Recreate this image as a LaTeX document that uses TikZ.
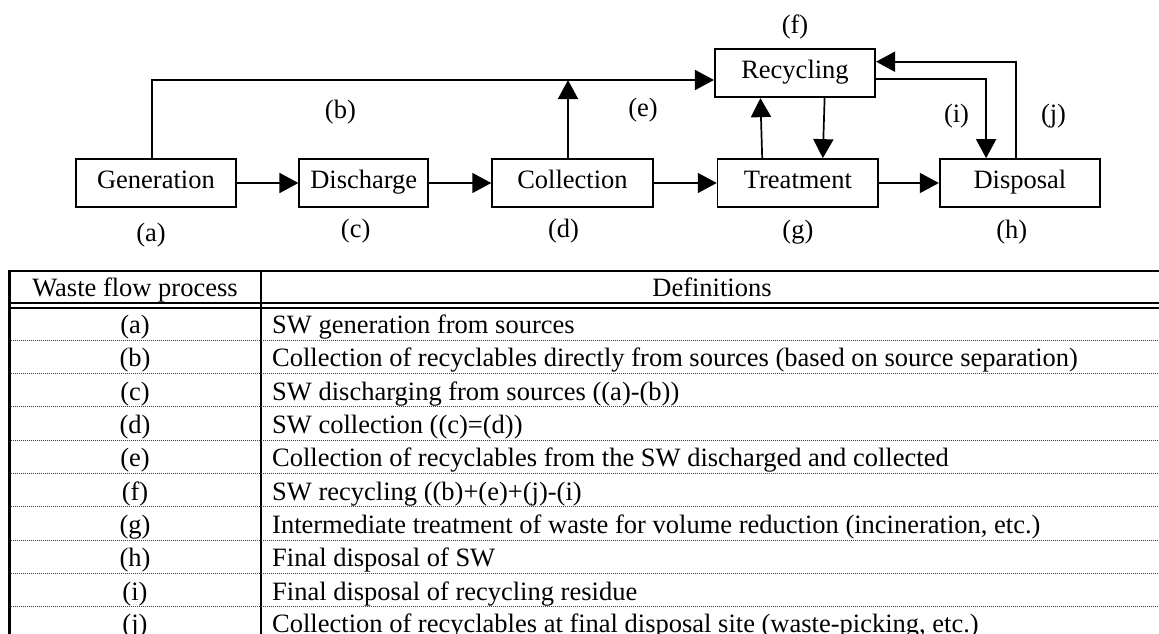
\documentclass[tikz,border=0pt]{standalone}
\usepackage{fontspec}
\setmainfont{Liberation Serif}
\usetikzlibrary{arrows.meta}
\begin{document}
\begin{tikzpicture}[x=1pt,y=-1pt,
  txt/.style={font=\fontsize{26.5}{30}\selectfont},
  box/.style={txt, draw, line width=1.7pt, inner sep=0pt, minimum height=48pt,
    text height=19pt, text depth=8pt},
  lbl/.style={txt, inner sep=0pt},
  flow/.style={line width=1.7pt, -{Triangle[length=19pt,width=20pt]}},
  cell/.style={txt, inner sep=0pt, anchor=base},
  defcell/.style={txt, inner sep=0pt, anchor=base west},
  rule/.style={line width=1.9pt},
  rowsep/.style={line width=0.9pt, dash pattern=on 1pt off 1pt, black!75}]
\useasboundingbox (0,0) rectangle (1159,634);

% process boxes
\node[box, minimum width=160.4pt] (gen) at (155.9,183) {Generation};
\node[box, minimum width=128.9pt] (dis) at (363.75,183) {Discharge};
\node[box, minimum width=160.7pt] (col) at (572.45,183) {Collection};
\node[box, minimum width=160.5pt] (trt) at (797.85,183) {Treatment};
\node[box, minimum width=160.5pt] (dsp) at (1019.95,183) {Disposal};
\node[box, minimum width=160.4pt] (rec) at (795,73.3) {Recycling};

% flow labels
\node[lbl] (lf) at (795,27) {(f)};
\node[lbl] (lb) at (340.4,111.7) {(b)};
\node[lbl] (le) at (643,110) {(e)};
\node[lbl] (li) at (956.5,116) {(i)};
\node[lbl] (lj) at (1053.5,116) {(j)};
\node[lbl] (la) at (151,235) {(a)};
\node[lbl] (lc) at (355.7,231) {(c)};
\node[lbl] (ld) at (563.6,231) {(d)};
\node[lbl] (lg) at (797.9,231.7) {(g)};
\node[lbl] (lh) at (1011.8,231.7) {(h)};

% main line of flows
\draw[flow] (gen) -- (dis);
\draw[flow] (dis) -- (col);
\draw[flow] (col) -- (trt);
\draw[flow] (trt) -- (dsp);

% recyclables taken to recycling, residue to disposal
\coordinate (bturn) at ([xshift=-3.8pt]gen.north |- 0,80);
\draw[flow] ([xshift=-3.8pt]gen.north) -- (bturn) -- (bturn -| rec.west);
\draw[flow] ([xshift=-4.45pt]col.north) -- ([xshift=-4.45pt]col.north |- bturn);
\draw[flow] ([xshift=-35.65pt]trt.north) -- ([xshift=-34.6pt]rec.south);
\draw[flow] ([xshift=29.6pt]rec.south) -- ([xshift=24.95pt]trt.north);
\draw[flow] ([yshift=-6pt]rec.east) -| ([xshift=-33.85pt]dsp.north);
\draw[flow] ([xshift=-3.95pt]dsp.north) |- ([yshift=11.6pt]rec.east);

% definitions table
\draw[rule] (8,271) -- (1159,271);
\draw[rule] (8,303.3) -- (1159,303.3);
\draw[rule] (8,307.7) -- (1159,307.7);
\draw[line width=2.5pt] (9.3,270) -- (9.3,634);
\draw[rule] (261,270) -- (261,634);
\foreach \k in {0,...,8}
  \draw[rowsep] (10.5,340+33.33*\k) -- (1159,340+33.33*\k);

\node[cell] (hp) at (135,296.5) {Waste flow process};
\node[cell] (hd) at (712,296.5) {Definitions};

\node[cell] (ra) at (135,333.5) {(a)};
\node[defcell] (da) at (272,333.5) {SW generation from sources};
\node[cell] (rb) at (135,366.8) {(b)};
\node[defcell] (db) at (272,366.8) {Collection of recyclables directly from sources (based on source separation)};
\node[cell] (rc) at (135,400.2) {(c)};
\node[defcell] (dc) at (272,400.2) {SW discharging from sources ((a)-(b))};
\node[cell] (rd) at (135,433.5) {(d)};
\node[defcell] (dd) at (272,433.5) {SW collection ((c)=(d))};
\node[cell] (re) at (135,466.8) {(e)};
\node[defcell] (de) at (272,466.8) {Collection of recyclables from the SW discharged and collected};
\node[cell] (rf) at (135,500.2) {(f)};
\node[defcell] (df) at (272,500.2) {SW recycling ((b)+(e)+(j)-(i)};
\node[cell] (rg) at (135,533.5) {(g)};
\node[defcell] (dg) at (272,533.5) {Intermediate treatment of waste for volume reduction (incineration, etc.)};
\node[cell] (rh) at (135,566.8) {(h)};
\node[defcell] (dh) at (272,566.8) {Final disposal of SW};
\node[cell] (ri) at (135,600.2) {(i)};
\node[defcell] (di) at (272,600.2) {Final disposal of recycling residue};
\node[cell] (rj) at (135,632) {(j)};
\node[defcell] (dj) at (272,632) {Collection of recyclables at final disposal site (waste-picking, etc.)};
\end{tikzpicture}
\end{document}
